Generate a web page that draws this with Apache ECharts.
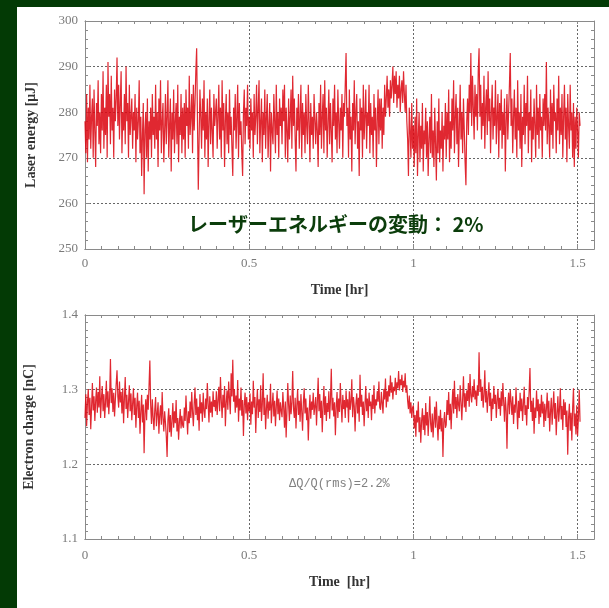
<!DOCTYPE html>
<html>
<head>
<meta charset="utf-8">
<script src="https://cdn.jsdelivr.net/npm/echarts@6/dist/echarts.min.js"></script>
<style>
  html, body { margin: 0; padding: 0; background: #ffffff; }
  #chart { width: 609px; height: 608px; }
</style>
</head>
<body>
<div id="chart"></div>
<script>
// Sampling interval of the logged shots, in hours
const SAMPLE_INTERVAL_HR = 0.0025;

// Laser pulse energy [μJ], one value per sample
const laserEnergy = [
  278, 271, 284, 269, 281, 274, 286, 272, 279, 283, 270, 285, 276, 268, 282, 277, 287, 273, 280, 271,
  284, 276, 289, 272, 281, 275, 286, 270, 291, 279, 284, 273, 288, 276, 281, 270, 285, 278, 283, 292,
  277, 286, 274, 282, 289, 271, 280, 276, 284, 273, 290, 278, 282, 270, 286, 275, 279, 283, 272, 280,
  276, 284, 269, 281, 274, 278, 287, 271, 279, 266, 275, 282, 262, 276, 280, 270, 283, 267, 278, 274,
  281, 270, 284, 275, 279, 272, 286, 274, 280, 268, 283, 276, 287, 271, 278, 282, 269, 276, 284, 273,
  279, 287, 270, 277, 283, 267, 280, 274, 285, 271, 278, 282, 273, 286, 269, 279, 275, 284, 271, 281,
  274, 282, 270, 285, 277, 281, 272, 288, 275, 279, 284, 271, 286, 276, 282, 289, 294, 278, 263, 274,
  285, 279, 272, 283, 276, 287, 270, 280, 274, 283, 268, 278, 285, 273, 281, 276, 270, 284, 277, 280,
  283, 272, 279, 286, 274, 281, 270, 287, 276, 282, 268, 278, 284, 273, 280, 271, 285, 275, 279, 272,
  266, 281, 276, 284, 272, 279, 286, 270, 282, 275, 278, 271, 266, 280, 285, 273, 281, 277, 286, 274,
  279, 272, 283, 276, 280, 270, 284, 275, 279, 286, 273, 281, 287, 271, 278, 283, 269, 280, 275, 285,
  272, 279, 284, 270, 277, 282, 267, 280, 276, 273, 284, 278, 271, 286, 275, 280, 270, 283, 277, 281,
  273, 285, 278, 286, 270, 281, 276, 269, 283, 274, 279, 285, 272, 288, 277, 283, 274, 267, 281, 276,
  284, 272, 279, 286, 270, 282, 275, 280, 271, 284, 277, 273, 286, 278, 269, 282, 275, 279, 272, 284,
  284, 273, 280, 276, 268, 282, 275, 286, 272, 279, 284, 271, 287, 276, 281, 270, 278, 285, 273, 282,
  276, 269, 283, 277, 286, 274, 280, 271, 285, 278, 272, 281, 276, 284, 270, 282, 279, 286, 293, 277,
  281, 270, 285, 274, 279, 267, 282, 276, 287, 273, 280, 284, 272, 278, 266, 283, 276, 281, 270, 286,
  274, 279, 285, 272, 280, 277, 286, 271, 282, 275, 279, 270, 284, 276, 281, 268, 278, 285, 273, 283,
  276, 283, 272, 281, 275, 286, 279, 283, 288, 281, 285, 279, 287, 283, 286, 290, 282, 288, 284, 289,
  281, 286, 283, 288, 280, 285, 287, 282, 289, 284, 280, 286, 278, 274, 266, 281, 276, 270, 282, 272,
  277, 268, 279, 271, 283, 266, 275, 280, 269, 277, 272, 282, 267, 276, 273, 281, 270, 278, 266, 274,
  279, 271, 284, 270, 276, 268, 281, 273, 265, 278, 271, 283, 269, 276, 272, 280, 267, 277, 274, 282,
  270, 280, 274, 285, 269, 278, 272, 283, 276, 287, 271, 279, 284, 273, 281, 268, 277, 286, 274, 280,
  271, 283, 276, 269, 264, 278, 283, 275, 286, 280, 293, 277, 288, 281, 274, 286, 279, 284, 276, 289,
  294, 279, 286, 274, 282, 277, 288, 272, 281, 285, 275, 289, 278, 283, 271, 280, 286, 274, 281, 277,
  287, 273, 279, 284, 270, 282, 276, 285, 272, 280, 275, 283, 267, 278, 284, 274, 280, 286, 293, 277,
  283, 271, 279, 285, 274, 281, 270, 287, 276, 280, 272, 284, 268, 279, 275, 286, 273, 282, 277, 288,
  271, 280, 276, 285, 269, 279, 274, 283, 277, 270, 286, 275, 281, 272, 284, 276, 279, 270, 283, 277,
  284, 276, 291, 273, 281, 277, 270, 285, 275, 282, 272, 286, 278, 280, 271, 283, 276, 288, 273, 281,
  275, 284, 270, 279, 286, 274, 281, 269, 284, 277, 272, 286, 276, 280, 270, 282, 268, 279, 272, 281,
  276, 270, 280, 277
];

// Electron bunch charge [nC], one value per sample
const electronCharge = [
  1.262, 1.294, 1.251, 1.283, 1.301, 1.266, 1.289, 1.247, 1.276, 1.309, 1.272, 1.291, 1.258, 1.285, 1.303, 1.269, 1.297, 1.276, 1.318, 1.262,
  1.288, 1.305, 1.271, 1.294, 1.262, 1.283, 1.312, 1.276, 1.298, 1.267, 1.289, 1.341, 1.282, 1.302, 1.270, 1.296, 1.264, 1.287, 1.308, 1.326,
  1.291, 1.276, 1.311, 1.283, 1.297, 1.268, 1.302, 1.255, 1.288, 1.317, 1.274, 1.293, 1.262, 1.284, 1.306, 1.271, 1.295, 1.259, 1.281, 1.302,
  1.266, 1.289, 1.249, 1.278, 1.296, 1.262, 1.285, 1.241, 1.271, 1.293, 1.256, 1.280, 1.215, 1.268, 1.287, 1.259, 1.293, 1.273, 1.305, 1.339,
  1.279, 1.254, 1.287, 1.262, 1.246, 1.273, 1.290, 1.251, 1.268, 1.283, 1.241, 1.266, 1.279, 1.253, 1.297, 1.262, 1.244, 1.271, 1.256, 1.238,
  1.210, 1.259, 1.275, 1.243, 1.266, 1.237, 1.258, 1.282, 1.249, 1.271, 1.255, 1.286, 1.244, 1.262, 1.233, 1.257, 1.274, 1.248, 1.265, 1.252,
  1.249, 1.276, 1.258, 1.292, 1.265, 1.240, 1.271, 1.255, 1.284, 1.262, 1.297, 1.270, 1.251, 1.281, 1.303, 1.266, 1.288, 1.259, 1.277, 1.245,
  1.294, 1.268, 1.283, 1.257, 1.296, 1.272, 1.262, 1.288, 1.274, 1.309, 1.281, 1.256, 1.291, 1.269, 1.284, 1.263, 1.298, 1.277, 1.286, 1.271,
  1.298, 1.266, 1.285, 1.304, 1.271, 1.317, 1.286, 1.262, 1.293, 1.276, 1.305, 1.251, 1.282, 1.299, 1.273, 1.311, 1.288, 1.267, 1.322, 1.291,
  1.340, 1.284, 1.301, 1.269, 1.292, 1.276, 1.313, 1.257, 1.288, 1.272, 1.303, 1.265, 1.286, 1.238, 1.279, 1.296, 1.268, 1.290, 1.259, 1.283,
  1.271, 1.295, 1.253, 1.284, 1.267, 1.312, 1.276, 1.290, 1.242, 1.279, 1.301, 1.262, 1.287, 1.270, 1.306, 1.258, 1.281, 1.322, 1.266, 1.289,
  1.247, 1.275, 1.293, 1.261, 1.284, 1.272, 1.308, 1.255, 1.279, 1.296, 1.264, 1.285, 1.251, 1.277, 1.299, 1.267, 1.288, 1.259, 1.283, 1.272,
  1.263, 1.297, 1.276, 1.249, 1.284, 1.236, 1.271, 1.309, 1.280, 1.258, 1.292, 1.267, 1.283, 1.325, 1.274, 1.262, 1.289, 1.248, 1.279, 1.301,
  1.266, 1.285, 1.257, 1.294, 1.271, 1.245, 1.283, 1.302, 1.268, 1.288, 1.259, 1.276, 1.232, 1.270, 1.293, 1.261, 1.284, 1.273, 1.296, 1.266,
  1.268, 1.290, 1.252, 1.283, 1.316, 1.271, 1.294, 1.262, 1.285, 1.243, 1.277, 1.305, 1.266, 1.291, 1.258, 1.282, 1.270, 1.298, 1.261, 1.287,
  1.328, 1.272, 1.289, 1.264, 1.283, 1.239, 1.276, 1.297, 1.262, 1.288, 1.270, 1.309, 1.281, 1.256, 1.293, 1.274, 1.286, 1.262, 1.299, 1.276,
  1.287, 1.256, 1.298, 1.273, 1.284, 1.314, 1.263, 1.290, 1.278, 1.244, 1.281, 1.295, 1.268, 1.289, 1.257, 1.320, 1.277, 1.293, 1.266, 1.284,
  1.251, 1.279, 1.305, 1.271, 1.288, 1.262, 1.296, 1.278, 1.284, 1.259, 1.293, 1.274, 1.306, 1.268, 1.287, 1.279, 1.298, 1.284, 1.311, 1.276,
  1.273, 1.297, 1.282, 1.268, 1.301, 1.287, 1.315, 1.276, 1.298, 1.284, 1.306, 1.291, 1.319, 1.296, 1.310, 1.287, 1.304, 1.298, 1.316, 1.293,
  1.310, 1.302, 1.325, 1.299, 1.314, 1.306, 1.320, 1.297, 1.312, 1.303, 1.322, 1.296, 1.306, 1.285, 1.274, 1.292, 1.268, 1.283, 1.262, 1.276,
  1.279, 1.248, 1.266, 1.237, 1.272, 1.256, 1.284, 1.243, 1.263, 1.229, 1.258, 1.275, 1.246, 1.266, 1.239, 1.282, 1.252, 1.270, 1.238, 1.262,
  1.291, 1.254, 1.243, 1.268, 1.236, 1.259, 1.277, 1.249, 1.284, 1.256, 1.232, 1.265, 1.247, 1.273, 1.244, 1.262, 1.210, 1.256, 1.270, 1.249,
  1.253, 1.286, 1.266, 1.297, 1.259, 1.281, 1.247, 1.278, 1.301, 1.268, 1.312, 1.274, 1.290, 1.262, 1.294, 1.280, 1.271, 1.306, 1.284, 1.259,
  1.288, 1.318, 1.276, 1.295, 1.270, 1.299, 1.285, 1.309, 1.277, 1.321, 1.292, 1.283, 1.305, 1.290, 1.314, 1.287, 1.299, 1.278, 1.306, 1.292,
  1.350, 1.297, 1.314, 1.285, 1.304, 1.276, 1.293, 1.326, 1.283, 1.299, 1.269, 1.292, 1.310, 1.278, 1.296, 1.258, 1.288, 1.274, 1.305, 1.281,
  1.293, 1.262, 1.286, 1.301, 1.274, 1.289, 1.265, 1.298, 1.278, 1.309, 1.283, 1.257, 1.290, 1.272, 1.221, 1.279, 1.296, 1.267, 1.300, 1.284,
  1.266, 1.291, 1.254, 1.280, 1.269, 1.303, 1.276, 1.247, 1.285, 1.262, 1.296, 1.271, 1.288, 1.258, 1.281, 1.304, 1.266, 1.279, 1.252, 1.290,
  1.274, 1.298, 1.329, 1.270, 1.285, 1.258, 1.289, 1.241, 1.276, 1.262, 1.299, 1.271, 1.287, 1.254, 1.281, 1.263, 1.293, 1.268, 1.284, 1.250,
  1.281, 1.258, 1.274, 1.296, 1.262, 1.285, 1.244, 1.270, 1.289, 1.253, 1.276, 1.298, 1.261, 1.282, 1.239, 1.268, 1.291, 1.257, 1.274, 1.302,
  1.260, 1.278, 1.246, 1.287, 1.266, 1.283, 1.250, 1.272, 1.213, 1.262, 1.281, 1.245, 1.269, 1.232, 1.276, 1.302, 1.251, 1.268, 1.240, 1.279,
  1.238, 1.262, 1.300, 1.257
];

// Axis ranges and tick steps
const timeRange = [0, 1.55];
const timeMajorStep = 0.5;
const timeMinorStep = 0.05;
const energyRange = [250, 300];
const energyMajorStep = 10;
const energyMinorStep = 2;
const chargeRange = [1.1, 1.4];
const chargeMajorStep = 0.1;
const chargeMinorStep = 0.01;

const toPairs = (vals) => vals.map((v, i) => [+(i * SAMPLE_INTERVAL_HR).toFixed(4), v]);

const FRAME = '#8a8a8a';
const TICK_FONT = { fontFamily: 'Liberation Serif', fontSize: 13, color: '#7a7a7a' };
const NAME_FONT = { fontFamily: 'Liberation Serif', fontSize: 14, fontWeight: 'bold', color: '#333' };
const TRACE = { color: '#dc0a14', width: 1.2, opacity: 0.88 };

function mainAxis(grid, position, range, step, name, nameGap, labelMargin, extra) {
  return Object.assign({
    type: 'value', gridIndex: grid, position: position,
    min: range[0], max: range[1], interval: step,
    name: name, nameLocation: 'middle', nameGap: nameGap, nameTextStyle: NAME_FONT,
    axisLine: { show: true, onZero: false, lineStyle: { color: FRAME, width: 1 } },
    axisTick: { show: true, inside: true, length: 5, lineStyle: { color: FRAME } },
    axisLabel: Object.assign({ margin: labelMargin, showMaxLabel: position === 'bottom' ? false : true }, TICK_FONT),
    splitLine: { show: true, lineStyle: { color: '#666', type: [2, 2], width: 1 } }
  }, extra || {});
}

function tickAxis(grid, position, range, step) {
  return {
    type: 'value', gridIndex: grid, position: position,
    min: range[0], max: range[1], interval: step,
    axisLine: { show: true, onZero: false, lineStyle: { color: FRAME, width: 1 } },
    axisTick: { show: true, inside: true, length: 3, lineStyle: { color: FRAME } },
    axisLabel: { show: false },
    splitLine: { show: false }
  };
}

const chart = echarts.init(document.getElementById('chart'), null, { renderer: 'canvas' });

chart.setOption({
  animation: false,
  backgroundColor: '#ffffff',
  grid: [
    { left: 85, top: 21, width: 509, height: 228 },
    { left: 85, top: 315, width: 509, height: 224 }
  ],
  xAxis: [
    mainAxis(0, 'bottom', timeRange, timeMajorStep, 'Time [hr]', 34, 8),
    tickAxis(0, 'bottom', timeRange, timeMinorStep),
    tickAxis(0, 'top', timeRange, timeMinorStep),
    mainAxis(1, 'bottom', timeRange, timeMajorStep, 'Time  [hr]', 36, 10),
    tickAxis(1, 'bottom', timeRange, timeMinorStep),
    tickAxis(1, 'top', timeRange, timeMinorStep)
  ],
  yAxis: [
    mainAxis(0, 'left', energyRange, energyMajorStep, 'Laser energy [μJ]', 47, 7),
    tickAxis(0, 'left', energyRange, energyMinorStep),
    tickAxis(0, 'right', energyRange, energyMinorStep),
    mainAxis(1, 'left', chargeRange, chargeMajorStep, 'Electron charge [nC]', 49, 7,
      { axisLabel: Object.assign({ margin: 7, formatter: (v) => v.toFixed(1) }, TICK_FONT) }),
    tickAxis(1, 'left', chargeRange, chargeMinorStep),
    tickAxis(1, 'right', chargeRange, chargeMinorStep)
  ],
  series: [
    {
      type: 'line', xAxisIndex: 0, yAxisIndex: 0,
      data: toPairs(laserEnergy),
      showSymbol: false, symbol: 'none', sampling: null,
      lineStyle: TRACE, z: 3
    },
    {
      type: 'line', xAxisIndex: 3, yAxisIndex: 3,
      data: toPairs(electronCharge),
      showSymbol: false, symbol: 'none', sampling: null,
      lineStyle: TRACE, z: 3
    }
  ],
  graphic: [
    { type: 'rect', left: 0, top: 0, shape: { width: 609, height: 7 }, style: { fill: '#033a05' }, z: 100 },
    { type: 'rect', left: 0, top: 0, shape: { width: 17, height: 608 }, style: { fill: '#033a05' }, z: 100 },
    {
      type: 'text', left: 188, top: 214, z: 100,
      style: {
        text: 'レーザーエネルギーの変動： 2%',
        fill: '#0b3d0b',
        font: 'bold 20px "Noto Sans CJK JP", sans-serif'
      }
    },
    {
      type: 'text', left: 289, top: 478, z: 100,
      style: {
        text: 'ΔQ/Q(rms)=2.2%',
        fill: '#808080',
        font: '12px "Liberation Mono", monospace'
      }
    }
  ]
});
</script>
</body>
</html>
